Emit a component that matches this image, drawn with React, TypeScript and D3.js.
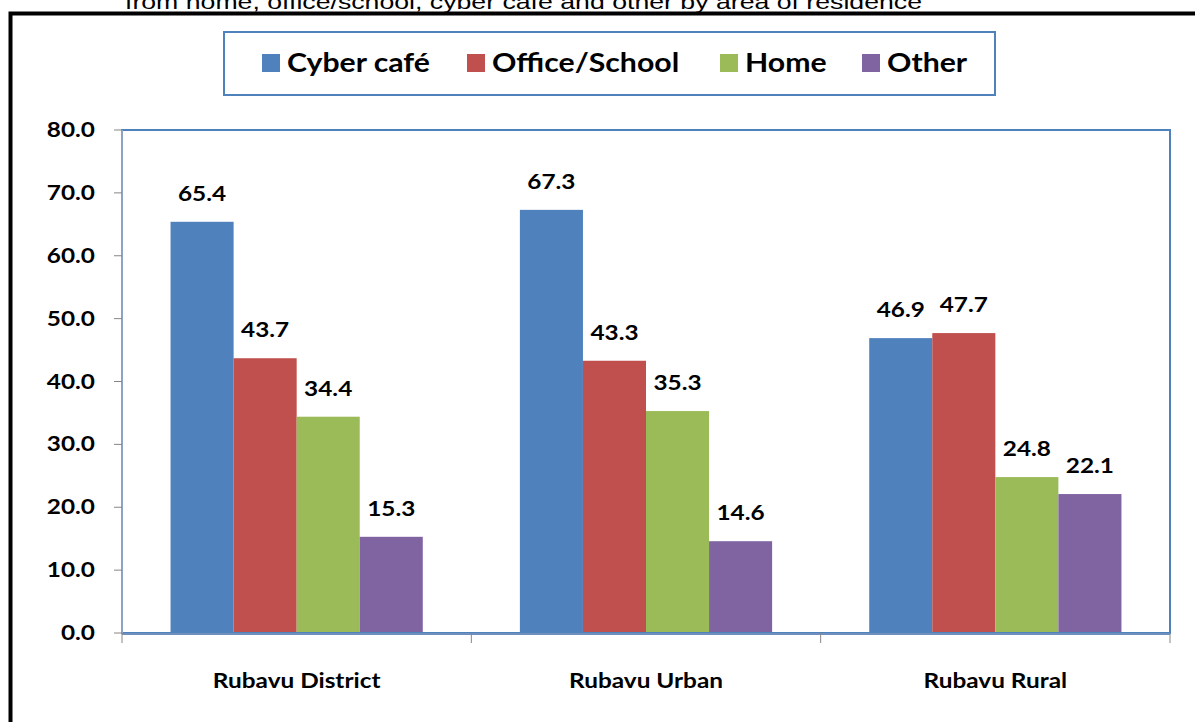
import React from "react";
import * as d3 from "d3";

const categories = ["Rubavu District", "Rubavu Urban", "Rubavu Rural"];
const seriesNames = ["Cyber café", "Office/School", "Home", "Other"];
const cyberCafe = [65.4, 67.3, 46.9];
const officeSchool = [43.7, 43.3, 47.7];
const home = [34.4, 35.3, 24.8];
const other = [15.3, 14.6, 22.1];
const yTicks = [0, 10, 20, 30, 40, 50, 60, 70, 80];
const colors = ["#4F81BD", "#C0504D", "#9BBB59", "#8064A2"];
const titleText = "from home, office/school, cyber cafe and other by area of residence";

const W = 1195;
const H = 722;
const plot = { left: 122, right: 1170, top: 130, bottom: 633 };
const FONT = "Lato, 'Open Sans', sans-serif";

function SText({ x, y, sx, size, anchor, children }: { x: number; y: number; sx: number; size: number; anchor: string; children: React.ReactNode }) {
  return (
    <text
      transform={`translate(${x},${y}) scale(${sx},1)`}
      textAnchor={anchor}
      fontFamily={FONT}
      fontWeight="bold"
      fontSize={size}
      fill="#000"
    >
      {children}
    </text>
  );
}

export default function App() {
  const series = [cyberCafe, officeSchool, home, other];
  const x = d3.scaleBand<string>().domain(categories).range([plot.left, plot.right]).paddingInner(0).paddingOuter(0);
  const xInner = d3.scaleBand<string>().domain(seriesNames).range([0, x.bandwidth()]).paddingInner(0).paddingOuter(0.77);
  const y = d3.scaleLinear().domain([0, 80]).range([plot.bottom, plot.top]);

  const legendX = [262, 467, 720, 862];

  return (
    <svg width={W} height={H} style={{ position: "absolute", left: 0, top: 0, background: "#fff" }}>
      <rect x={0} y={0} width={W} height={H} fill="#fff" />
      {/* cut-off title */}
      <text x={125} y={9} fontFamily="'Liberation Sans', Arial, sans-serif" fontSize={21} fill="#000" textLength={797} lengthAdjust="spacingAndGlyphs">
        {titleText}
      </text>
      {/* outer black frame */}
      <rect x={10.5} y={13.5} width={W + 20} height={H + 20} fill="none" stroke="#000" strokeWidth={4} />

      {/* legend */}
      <rect x={224} y={32} width={771} height={63} fill="#fff" stroke="#4F81BD" strokeWidth={2} />
      {seriesNames.map((s, i) => (
        <g key={s}>
          <rect x={legendX[i]} y={54} width={18} height={18} fill={colors[i]} />
          <SText x={legendX[i] + 25} y={72} sx={1.12} size={27} anchor="start">
            {s}
          </SText>
        </g>
      ))}

      {/* bars */}
      {categories.map((c, ci) => (
        <g key={c}>
          {seriesNames.map((s, si) => {
            const v = series[si][ci];
            const bx = (x(c) as number) + (xInner(s) as number);
            return (
              <g key={s}>
                <rect x={bx} y={y(v)} width={xInner.bandwidth()} height={plot.bottom - y(v)} fill={colors[si]} />
                <SText x={bx + xInner.bandwidth() / 2} y={y(v) - 21} sx={1.16} size={21} anchor="middle">
                  {v.toFixed(1)}
                </SText>
              </g>
            );
          })}
        </g>
      ))}

      {/* plot border */}
      <rect x={plot.left} y={plot.top} width={plot.right - plot.left} height={plot.bottom - plot.top} fill="none" stroke="#4F81BD" strokeWidth={2} />
      {/* y axis line */}
      <line x1={plot.left} x2={plot.left} y1={plot.top} y2={plot.bottom} stroke="#8EA3C0" strokeWidth={2} />
      {/* x axis line */}
      <line x1={plot.left} x2={plot.right} y1={plot.bottom + 1} y2={plot.bottom + 1} stroke="#6F90BF" strokeWidth={2} />

      {/* y ticks */}
      {yTicks.map((t) => (
        <g key={t}>
          <line x1={114} x2={plot.left} y1={y(t)} y2={y(t)} stroke="#868686" strokeWidth={1} />
          <SText x={95} y={y(t) + 7} sx={1.16} size={21} anchor="end">
            {t.toFixed(1)}
          </SText>
        </g>
      ))}

      {/* x category ticks */}
      {[...categories.map((c) => x(c) as number), plot.right].map((px, i) => (
        <line key={i} x1={px} x2={px} y1={plot.bottom} y2={plot.bottom + 10} stroke="#868686" strokeWidth={1} />
      ))}
      {categories.map((c) => (
        <SText key={c} x={(x(c) as number) + x.bandwidth() / 2} y={688} sx={1.16} size={21} anchor="middle">
          {c}
        </SText>
      ))}
    </svg>
  );
}
